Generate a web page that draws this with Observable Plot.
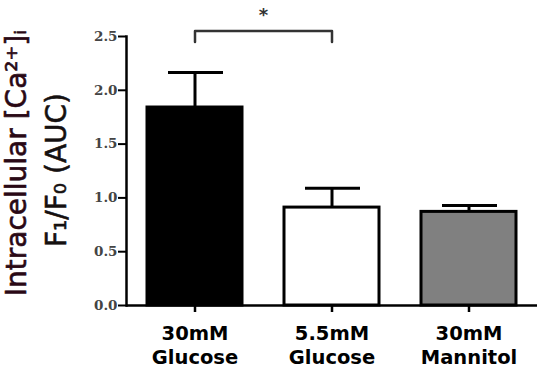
<!DOCTYPE html>
<html><head><meta charset="utf-8">
<script src="https://cdn.jsdelivr.net/npm/d3@7"></script>
<script src="https://cdn.jsdelivr.net/npm/@observablehq/plot@0.6"></script>
<style>body{margin:0;background:#fff}</style>
</head><body><div id="chart"></div>
<script>
const categories = ["30mM\nGlucose", "5.5mM\nGlucose", "30mM\nMannitol"];
const means = [1.84, 0.91, 0.87];
const errorsUp = [0.325, 0.18, 0.06];
const fills = ["#000000", "#ffffff", "#808080"];
const yTicks = [0, 0.5, 1.0, 1.5, 2.0, 2.5];
const yLabelLine1 = "Intracellular [Ca²⁺]ᵢ";
const yLabelLine2 = "F₁/F₀ (AUC)";
const sigFrom = categories[0], sigTo = categories[1];
const sigLow = 2.45, sigHigh = 2.55, sigTextY = 2.7, sigLabel = "*";

const data = categories.map((c, i) => ({cat: c, mean: means[i], top: means[i] + errorsUp[i], fill: fills[i]}));
const bracket = [
  {x: sigFrom, y: sigLow}, {x: sigFrom, y: sigHigh},
  {x: sigTo, y: sigHigh}, {x: sigTo, y: sigLow}
];

const W = 540, H = 371, mL = 126, mR = 3, mT = 36, mB = 66;
const xScaleOpts = {type: "band", domain: categories, paddingInner: 0.31, paddingOuter: 0.155};
const xs = Plot.scale({x: {...xScaleOpts, range: [mL, W - mR]}});
const midOffset = (xs.apply(sigTo) - xs.apply(sigFrom)) / 2;

const chart = Plot.plot({
  width: W, height: H,
  marginLeft: mL, marginRight: mR, marginTop: mT, marginBottom: mB,
  style: {background: "#fff", overflow: "visible"},
  x: {...xScaleOpts, label: null},
  y: {domain: [0, 2.5], label: null},
  marks: [
    Plot.ruleX(data, {x: "cat", y1: "mean", y2: "top", stroke: "#000", strokeWidth: 3}),
    Plot.tickY(data, {x: "cat", y: "top", stroke: "#000", strokeWidth: 3, insetLeft: 21, insetRight: 19}),
    Plot.barY(data, {x: "cat", y: "mean", fill: "fill", stroke: "#000", strokeWidth: 3}),
    Plot.line(bracket, {x: "x", y: "y", stroke: "#333", strokeWidth: 2.5}),
    Plot.text([{x: sigFrom, label: sigLabel}], {x: "x", y: () => sigTextY, text: "label", dx: midOffset, fontSize: 18, fontWeight: "bold", fill: "#333", fontFamily: "DejaVu Sans"}),
    Plot.axisY({ticks: yTicks, tickFormat: d => d.toFixed(1), tickSize: 8, tickPadding: 1, stroke: "#000", strokeWidth: 2, fill: "#444", fontFamily: "DejaVu Serif", fontWeight: "bold", fontSize: 13.5}),
    Plot.axisX({tickSize: 7, tickPadding: 11, stroke: "#000", strokeWidth: 2.5, fill: "#000", fontFamily: "DejaVu Sans", fontWeight: "bold", fontSize: 19.5, lineHeight: 1.22, label: null}),
    Plot.frame({anchor: "left", stroke: "#000", strokeWidth: 2.5}),
    Plot.ruleY([0], {stroke: "#000", strokeWidth: 2.5}),
    Plot.text([yLabelLine1], {text: d => d, frameAnchor: "left", rotate: -90, dx: -101, dy: -8, lineAnchor: "bottom", textAnchor: "middle", fontSize: 28, fill: "#2a0815", stroke: "#2a0815", strokeWidth: 0.6, fontFamily: "DejaVu Sans"}),
    Plot.text([yLabelLine2], {text: d => d, frameAnchor: "left", rotate: -90, dx: -61, dy: -1, lineAnchor: "bottom", textAnchor: "middle", fontSize: 28, fill: "#151010", stroke: "#151010", strokeWidth: 0.6, fontFamily: "DejaVu Sans"})
  ]
});
document.getElementById("chart").appendChild(chart);
</script>
</body></html>
